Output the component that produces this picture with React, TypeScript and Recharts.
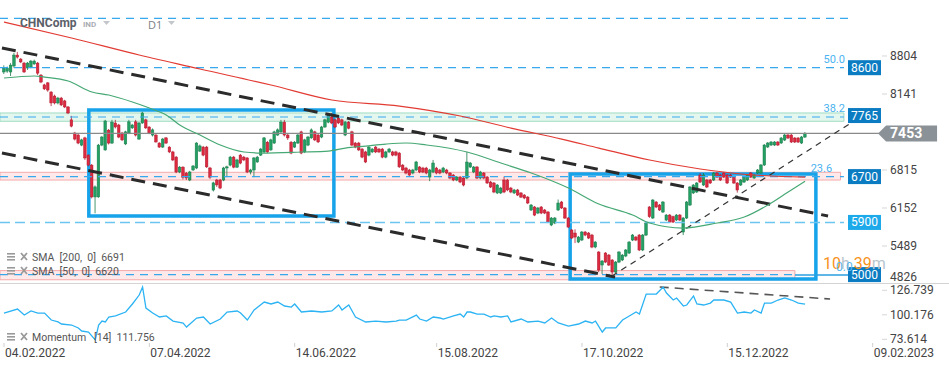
import {
  ComposedChart,
  Bar,
  Line,
  XAxis,
  YAxis,
  ReferenceLine,
  ReferenceArea,
  ReferenceDot,
} from "recharts";

// daily candles, index 0 = first session on the chart
const opens = [
  8525, 8540, 8525, 8630, 8820, 8750, 8680, 8595, 8610, 8665,
  8680, 8470, 8300, 8335, 8175, 8105, 7985, 8070, 8020, 7915,
  7690, 7460, 7425, 7250, 7375, 7075, 6900, 6345, 6345, 7250,
  7165, 7510, 7285, 7635, 7600, 7460, 7270, 7460, 7550, 7655,
  7355, 7635, 7690, 7565, 7425, 7425, 7285, 7215, 7375, 7215,
  7130, 7040, 6780, 6865, 6760, 6640, 6815, 6850, 7145, 7215,
  7215, 6850, 6465, 6640, 6640, 6640, 6850, 6900, 7040, 6865,
  7075, 7040, 7025, 6780, 6815, 6955, 7075, 7130, 7300, 7165,
  7285, 7425, 7480, 7650, 7425, 7300, 7215, 7285, 7480, 7130,
  7250, 7375, 7480, 7425, 7390, 7565, 7650, 7740, 7690, 7720,
  7690, 7425, 7650, 7480, 7285, 7285, 7180, 7130, 7075, 7130,
  7215, 7180, 7180, 7040, 7130, 7130, 7130, 7110, 6900, 6849,
  6815, 6762, 6815, 6867, 6849, 6849, 6692, 6780, 6849, 6815,
  6780, 6815, 6762, 6727, 6640, 6692, 6675, 6675, 6867, 6780,
  6867, 6675, 6762, 6692, 6605, 6588, 6414, 6414, 6640, 6640,
  6500, 6414, 6466, 6414, 6378, 6343, 6117, 6169, 6064, 6169,
  6117, 6082, 5855, 5890, 6117, 6256, 6152, 5977, 5768, 5715,
  5558, 5593, 5733, 5715, 5680, 5471, 5384, 5157, 5366, 5331,
  5244, 5035, 5209, 5244, 5314, 5366, 5593, 5645, 5680, 5419,
  5680, 6169, 5977, 6256, 6204, 6082, 5942, 6029, 6000, 5942,
  6029, 5733, 5977, 6204, 6414, 6431, 6727, 6553, 6640, 6640,
  6640, 6762, 6727, 6762, 6727, 6727, 6692, 6588, 6553, 6605,
  6640, 6762, 6675, 6762, 6762, 6902, 7216, 7251, 7251, 7303,
  7286, 7338, 7425, 7425, 7373, 7373, 7286, 7390,
];
const closes = [
  8594, 8595, 8645, 8820, 8785, 8700, 8525, 8680, 8715, 8715,
  8505, 8350, 8230, 8210, 7985, 7985, 8070, 7950, 7915, 7810,
  7580, 7355, 7285, 7340, 7025, 6900, 6345, 6520, 7250, 7390,
  7670, 7285, 7650, 7565, 7390, 7340, 7480, 7655, 7600, 7425,
  7635, 7810, 7550, 7460, 7515, 7305, 7215, 7355, 7285, 7130,
  6990, 6780, 6865, 6690, 6675, 6780, 6885, 7285, 7235, 7075,
  6870, 6690, 6590, 6555, 6500, 6850, 6870, 7040, 6865, 6990,
  6935, 6990, 6780, 6815, 7025, 7040, 7180, 7375, 7130, 7340,
  7480, 7515, 7650, 7425, 7375, 7110, 7300, 7425, 7110, 7340,
  7390, 7515, 7340, 7305, 7565, 7690, 7775, 7635, 7565, 7635,
  7600, 7650, 7545, 7250, 7215, 7165, 7040, 6955, 7215, 7180,
  7130, 7130, 7040, 7130, 7180, 7075, 7075, 6870, 6815, 6762,
  6727, 6815, 6955, 6780, 6780, 6762, 6815, 6937, 6762, 6762,
  6849, 6762, 6675, 6640, 6692, 6605, 6553, 6954, 6937, 6867,
  6675, 6780, 6675, 6588, 6518, 6431, 6553, 6500, 6431, 6466,
  6431, 6466, 6378, 6343, 6326, 6239, 6204, 6029, 6152, 6064,
  6064, 5907, 5977, 5977, 6239, 6152, 5977, 5820, 5628, 5645,
  5645, 5733, 5680, 5628, 5471, 5558, 5070, 5227, 5209, 5157,
  5035, 5209, 5384, 5331, 5419, 5558, 5680, 5593, 5419, 5680,
  5890, 6000, 6291, 6169, 6117, 6256, 6029, 5907, 5907, 6029,
  5942, 5977, 6256, 6518, 6553, 6588, 6605, 6727, 6518, 6588,
  6762, 6692, 6640, 6692, 6588, 6692, 6588, 6466, 6640, 6692,
  6727, 6692, 6727, 6815, 6902, 7251, 7286, 7303, 7303, 7251,
  7373, 7425, 7373, 7303, 7303, 7303, 7390, 7453,
];
const highs = [
  8640, 8620, 8680, 8860, 8875, 8770, 8700, 8700, 8735, 8740,
  8700, 8490, 8320, 8350, 8190, 8130, 8090, 8090, 8040, 7930,
  7760, 7480, 7445, 7360, 7395, 7090, 6920, 6545, 7270, 7410,
  7690, 7530, 7690, 7690, 7620, 7480, 7500, 7690, 7620, 7690,
  7650, 7830, 7710, 7580, 7540, 7440, 7300, 7375, 7390, 7230,
  7150, 7060, 6885, 6880, 6780, 6800, 6900, 7300, 7260, 7235,
  7235, 6870, 6610, 6660, 6660, 6870, 6890, 7060, 7060, 7010,
  7095, 7060, 7040, 6835, 7040, 7060, 7200, 7390, 7320, 7360,
  7500, 7540, 7690, 7690, 7445, 7320, 7320, 7445, 7500, 7360,
  7410, 7540, 7500, 7445, 7585, 7710, 7810, 7810, 7710, 7760,
  7710, 7670, 7670, 7500, 7305, 7305, 7200, 7150, 7235, 7200,
  7235, 7200, 7200, 7150, 7200, 7150, 7150, 7130, 6920, 6870,
  6835, 6835, 6975, 6885, 6870, 6870, 6835, 6990, 6870, 6835,
  6870, 6835, 6780, 6745, 6710, 6710, 6692, 7130, 6955, 6885,
  6885, 6800, 6780, 6710, 6625, 6605, 6570, 6520, 6700, 6660,
  6520, 6485, 6485, 6430, 6395, 6360, 6222, 6187, 6170, 6187,
  6135, 6100, 5995, 5995, 6300, 6275, 6170, 5995, 5785, 5780,
  5665, 5750, 5750, 5733, 5700, 5575, 5400, 5245, 5384, 5350,
  5262, 5227, 5400, 5350, 5436, 5575, 5698, 5663, 5698, 5698,
  5907, 6187, 6308, 6274, 6222, 6274, 6047, 6047, 6018, 6047,
  6047, 5995, 6274, 6536, 6570, 6605, 6762, 6762, 6658, 6658,
  6780, 6780, 6745, 6780, 6745, 6745, 6710, 6605, 6658, 6710,
  6745, 6780, 6745, 6832, 6920, 7268, 7303, 7320, 7320, 7320,
  7390, 7443, 7443, 7443, 7390, 7390, 7408, 7478,
];
const lows = [
  8490, 8510, 8455, 8600, 8760, 8680, 8510, 8560, 8590, 8650,
  8470, 8330, 8210, 8180, 7930, 7960, 7960, 7930, 7895, 7790,
  7560, 7330, 7265, 7230, 6990, 6880, 6320, 6060, 6330, 7230,
  7150, 7260, 7270, 7540, 7370, 7320, 7250, 7440, 7530, 7400,
  7340, 7620, 7530, 7440, 7400, 7290, 7200, 7200, 7270, 7110,
  6970, 6760, 6760, 6650, 6640, 6620, 6800, 6830, 7130, 7055,
  6850, 6660, 6440, 6520, 6480, 6620, 6690, 6880, 6845, 6850,
  6915, 6970, 6760, 6740, 6690, 6940, 7060, 7110, 7110, 7150,
  7270, 7410, 7460, 7400, 7340, 7090, 7200, 7270, 7090, 7110,
  7230, 7360, 7320, 7285, 7370, 7550, 7630, 7615, 7545, 7615,
  7580, 7405, 7525, 7230, 7195, 7145, 7020, 6935, 7055, 7110,
  7110, 7110, 7020, 7020, 7110, 7055, 7055, 6850, 6795, 6740,
  6705, 6740, 6795, 6760, 6760, 6740, 6620, 6760, 6740, 6740,
  6760, 6740, 6655, 6620, 6620, 6585, 6530, 6655, 6850, 6760,
  6655, 6655, 6655, 6570, 6500, 6410, 6395, 6395, 6410, 6445,
  6410, 6395, 6360, 6325, 6305, 6220, 6100, 6010, 6045, 6045,
  6045, 5890, 5835, 5870, 6100, 6135, 5960, 5800, 5610, 5540,
  5540, 5575, 5660, 5610, 5450, 5450, 5035, 5000, 5190, 5140,
  4982, 5017, 5190, 5225, 5295, 5348, 5575, 5575, 5400, 5400,
  5663, 5980, 5960, 6150, 6100, 6064, 5925, 5890, 5890, 5925,
  5925, 5680, 5960, 6186, 6396, 6414, 6588, 6536, 6500, 6570,
  6622, 6675, 6622, 6675, 6570, 6675, 6570, 6420, 6536, 6588,
  6622, 6675, 6658, 6745, 6745, 6885, 7198, 7233, 7233, 7233,
  7268, 7320, 7355, 7286, 7286, 7286, 7268, 7373,
];

// moving averages, read at sample points
const sma200Idx = [0, 20, 40, 58, 79, 97, 117, 135, 150, 165, 176, 191, 206, 218, 237];
const sma200Vals = [9397, 9118, 8821, 8577, 8298, 8036, 7931, 7757, 7547, 7355, 7198, 6989, 6832, 6745, 6691];
const sma50Idx = [0, 9, 12, 19, 26, 31, 38, 43, 48, 52, 58, 64, 71, 76, 88, 96, 101, 107, 113, 119, 125, 137, 147, 156, 167, 176, 186, 191, 201, 211, 219, 226, 232, 237];
const sma50Vals = [8420, 8455, 8437, 8368, 8176, 8123, 8001, 7896, 7774, 7600, 7425, 7251, 7129, 7111, 7129, 7146, 7198, 7233, 7268, 7286, 7251, 7129, 6937, 6762, 6500, 6221, 6029, 5890, 5802, 5890, 5994, 6204, 6431, 6620];

// momentum (14)
const momIdx = [
  0, 4, 6, 8, 10, 12, 14, 16, 17, 20, 22, 23, 25, 27, 28, 29, 30, 31, 33, 36,
  38, 40, 41, 42, 44, 46, 48, 50, 53, 54, 57, 59, 61, 64, 66, 69, 70, 72, 74, 77,
  79, 81, 83, 85, 86, 88, 91, 94, 97, 99, 100, 102, 104, 107, 110, 113, 116, 117, 119, 122,
  123, 125, 127, 129, 130, 133, 135, 136, 137, 138, 140, 142, 144, 145, 147, 149, 150, 153, 155, 158,
  160, 162, 164, 167, 170, 172, 174, 175, 177, 178, 181, 183, 185, 187, 188, 190, 193, 195, 196, 198,
  199, 201, 202, 204, 205, 207, 209, 210, 213, 215, 217, 219, 221, 222, 224, 225, 227, 229, 231, 233,
  235, 237,
];
const momVals = [
  102.1, 106.4, 99.9, 104.3, 102.1, 102.1, 94.5, 92.4, 90.2, 89.1, 85.9, 82.6, 81.5, 72.9, 89.1, 93.4, 92.4, 97.8, 98.9, 103.2,
  111.9, 121.6, 130.3, 107.5, 102.1, 97.8, 98.9, 93.4, 91.3, 86.9, 96.7, 97.8, 90.2, 95.6, 103.2, 104.3, 102.1, 94.5, 105.4, 114.0,
  111.9, 114.0, 109.7, 108.6, 111.9, 103.2, 104.3, 103.2, 104.3, 110.8, 105.4, 110.8, 97.8, 92.4, 93.4, 92.4, 93.4, 94.5, 94.5, 99.9,
  95.6, 93.4, 97.8, 96.7, 95.6, 98.9, 101.0, 97.8, 103.2, 103.2, 101.0, 101.0, 97.8, 98.9, 97.8, 98.9, 92.4, 95.6, 92.4, 93.4,
  91.3, 96.7, 91.3, 88.0, 90.2, 93.4, 91.3, 93.4, 81.5, 85.9, 85.9, 94.5, 98.9, 103.2, 101.0, 122.7, 122.7, 130.3, 123.8, 116.2,
  118.4, 109.7, 110.8, 120.6, 111.9, 110.8, 112.9, 116.2, 116.2, 114.0, 102.1, 103.2, 102.1, 105.4, 102.1, 112.9, 112.9, 116.2, 118.4, 116.2,
  112.9, 111.8,
];

const dateTicks = [0, 43, 86, 128, 171, 214, 257];
const dateLabels = ["04.02.2022", "07.04.2022", "14.06.2022", "15.08.2022", "17.10.2022", "15.12.2022", "09.02.2023"];
const priceTicks = [4826, 5489, 6152, 6815, 8141, 8804];
const momTicks = [73.614, 100.176, 126.739];

const X_MIN = -1.18;
const X_MAX = 259.17;
const LABEL_X = 249.7;

const rows = opens.map((o, i) => ({
  i,
  o,
  c: closes[i],
  h: highs[i],
  l: lows[i],
  range: [lows[i], highs[i]],
  sma200: null as number | null,
  sma50: null as number | null,
  mom: null as number | null,
}));
sma200Idx.forEach((k, j) => (rows[k].sma200 = sma200Vals[j]));
sma50Idx.forEach((k, j) => (rows[k].sma50 = sma50Vals[j]));
momIdx.forEach((k, j) => (rows[k].mom = momVals[j]));

const GREEN = "#24a064";
const GREEN_D = "#187a4a";
const RED = "#dc2a40";
const RED_D = "#b11a2e";
const FIB = "#37a8ee";

function Candle(props: any) {
  const { x, y, width, height, payload } = props;
  if (!payload) return null;
  const { o, c, h, l } = payload;
  const top = Math.min(y, y + height);
  const hh = Math.abs(height) || 1;
  const px = (v: number) => top + ((h - v) / (h - l || 1)) * hh;
  const cx = x + width / 2;
  const up = c >= o;
  const bTop = px(Math.max(o, c));
  const bBot = px(Math.min(o, c));
  return (
    <g>
      <line x1={cx} x2={cx} y1={top} y2={top + hh} stroke={up ? GREEN_D : RED_D} strokeWidth={0.8} />
      <rect
        x={cx - 1.3}
        y={bTop}
        width={2.6}
        height={Math.max(bBot - bTop, 1)}
        fill={up ? GREEN : RED}
        stroke={up ? GREEN_D : RED_D}
        strokeWidth={0.5}
      />
    </g>
  );
}

const priceBox = (label: string, bg: string) => (p: any) => (
  <g>
    <rect x={p.cx} y={p.cy - 7.5} width={33} height={15} fill={bg} />
    <text x={p.cx + 16.5} y={p.cy + 4} textAnchor="middle" fontSize={12} fill="#fff">
      {label}
    </text>
  </g>
);

const fibText = (label: string) => (p: any) => (
  <text x={p.cx} y={p.cy - 5} textAnchor="end" fontSize={11} fill="#4cb3f0">
    {label}
  </text>
);

const lastPrice = (p: any) => (
  <g>
    <polygon
      points={`${p.cx},${p.cy} ${p.cx + 8},${p.cy - 8} ${p.cx + 59},${p.cy - 8} ${p.cx + 59},${p.cy + 8} ${p.cx + 8},${p.cy + 8}`}
      fill="#8b9297"
    />
    <text x={p.cx + 12} y={p.cy + 5} fontSize={14} fontWeight={700} fill="#fff">
      7453
    </text>
  </g>
);

function PriceTick(props: any) {
  const { x, y, payload } = props;
  const bottom = payload.value === 4826;
  return (
    <g>
      <line x1={x + 2} x2={x + 7} y1={y} y2={y} stroke="#d6d6d6" />
      <text x={x + 10} y={y + (bottom ? -3 : 4)} fontSize={12} fill="#444">
        {payload.value}
      </text>
    </g>
  );
}

function MomTick(props: any) {
  const { x, y, payload } = props;
  return (
    <g>
      <line x1={x + 2} x2={x + 7} y1={y} y2={y} stroke="#d6d6d6" />
      <text x={x + 10} y={y + 4} fontSize={12} fill="#444">
        {payload.value}
      </text>
    </g>
  );
}

function DateTick(props: any) {
  const { x, y, payload, index } = props;
  return (
    <g>
      <line x1={x} x2={x} y1={y - 3} y2={y + 1} stroke="#d0d0d0" />
      <text x={x + 1} y={y + 11} fontSize={12} fill="#444">
        {dateLabels[index] ?? payload.value}
      </text>
    </g>
  );
}

function LegendRow({ top, text }: { top: number; text: string }) {
  return (
    <div style={{ position: "absolute", left: 7, top, display: "flex", alignItems: "center", height: 12 }}>
      <svg width={24} height={10}>
        <rect x={0} y={1} width={8} height={1.6} fill="#9a9a9a" />
        <rect x={0} y={4} width={8} height={1.6} fill="#9a9a9a" />
        <rect x={0} y={7} width={8} height={1.6} fill="#9a9a9a" />
        <path d="M14 1 L20 8 M20 1 L14 8" stroke="#9a9a9a" strokeWidth={1.8} />
      </svg>
      <span style={{ marginLeft: 1, fontSize: 10.5, color: "#555", whiteSpace: "pre" }}>{text}</span>
    </div>
  );
}

function Caret({ left, top }: { left: number; top: number }) {
  return (
    <svg style={{ position: "absolute", left, top }} width={8} height={5}>
      <path d="M0 0 L7 0 L3.5 4 Z" fill="#c3c6ca" />
    </svg>
  );
}

export default function App() {
  return (
    <div
      style={{
        position: "absolute",
        left: 0,
        top: 0,
        width: 949,
        height: 370,
        background: "#fff",
        overflow: "hidden",
        fontFamily: "Roboto, sans-serif",
      }}
    >
      <div style={{ position: "absolute", left: 0, top: 0 }}>
        <ComposedChart width={949} height={284} data={rows} margin={{ top: 0, right: 0, bottom: 0, left: 0 }}>
          <XAxis dataKey="i" type="number" domain={[X_MIN, X_MAX]} hide allowDataOverflow />
          <YAxis
            yAxisId={0}
            orientation="right"
            width={69}
            domain={[4826, 9781]}
            ticks={priceTicks}
            interval={0}
            allowDataOverflow
            axisLine={false}
            tickLine={false}
            tickSize={0}
            tickMargin={0}
            tick={<PriceTick />}
          />

          {/* support / resistance bands */}
          <ReferenceArea x1={X_MIN} x2={248.5} y1={7665} y2={7810} fill="#e4f7ef" fillOpacity={1} stroke="#9fdcc4" strokeWidth={1} />
          <ReferenceArea x1={X_MIN} x2={247.5} y1={6640} y2={6775} fill="#fde9e9" fillOpacity={1} stroke="#f4aaaa" strokeWidth={1} />
          <ReferenceArea x1={X_MIN} x2={234} y1={4900} y2={5060} fill="#fde9e9" fillOpacity={1} stroke="#f4aaaa" strokeWidth={1} />

          <ReferenceLine segment={[{ x: X_MIN, y: 9462 }, { x: 251, y: 9462 }]} stroke={FIB} strokeDasharray="8 6" strokeWidth={1.2} />
          <ReferenceLine segment={[{ x: X_MIN, y: 8600 }, { x: 248.5, y: 8600 }]} stroke={FIB} strokeDasharray="8 6" strokeWidth={1.2} />
          <ReferenceLine segment={[{ x: X_MIN, y: 7740 }, { x: 248.5, y: 7740 }]} stroke={FIB} strokeDasharray="8 6" strokeWidth={1.2} />
          <ReferenceLine segment={[{ x: X_MIN, y: 6700 }, { x: 248.5, y: 6700 }]} stroke={FIB} strokeDasharray="8 6" strokeWidth={1.2} />
          <ReferenceLine segment={[{ x: X_MIN, y: 5900 }, { x: 248.5, y: 5900 }]} stroke="#6cc4f0" strokeDasharray="10 5" strokeWidth={1.5} />
          <ReferenceLine segment={[{ x: X_MIN, y: 4990 }, { x: 234, y: 4990 }]} stroke={FIB} strokeDasharray="8 6" strokeWidth={1.2} />
          <ReferenceLine segment={[{ x: 234, y: 4982 }, { x: LABEL_X, y: 4982 }]} stroke="#2a9fe0" strokeWidth={1.5} />
          <ReferenceLine y={7453} stroke="#8a8a8a" strokeWidth={1.2} />

          {/* trend channel */}
          <ReferenceLine segment={[{ x: -0.6, y: 8944 }, { x: 243.8, y: 6012 }]} stroke="#2b2b2b" strokeWidth={3} strokeDasharray="14 8" />
          <ReferenceLine segment={[{ x: -0.6, y: 7111 }, { x: 180.8, y: 4947 }]} stroke="#2b2b2b" strokeWidth={3} strokeDasharray="14 8" />
          <ReferenceLine segment={[{ x: 179.9, y: 4965 }, { x: 253.3, y: 7739 }]} stroke="#333" strokeWidth={1.2} strokeDasharray="6 5" />

          <Line dataKey="sma200" type="monotone" connectNulls dot={false} activeDot={false} stroke="#e23b33" strokeWidth={1.2} isAnimationActive={false} />
          <Line dataKey="sma50" type="monotone" connectNulls dot={false} activeDot={false} stroke="#46a874" strokeWidth={1.2} isAnimationActive={false} />

          <Bar dataKey="range" barSize={3} shape={<Candle />} isAnimationActive={false} />

          {/* highlight boxes */}
          <ReferenceArea x1={25.1} x2={97.6} y1={6012} y2={7862} fill="none" stroke="#16a3ea" strokeWidth={3.5} />
          <ReferenceArea x1={167.5} x2={240.2} y1={4912} y2={6745} fill="none" stroke="#16a3ea" strokeWidth={3.5} />

          <ReferenceDot x={248.8} y={8600} r={0} ifOverflow="visible" shape={fibText("50.0")} />
          <ReferenceDot x={248.8} y={7740} r={0} ifOverflow="visible" shape={fibText("38.2")} />
          <ReferenceDot x={245} y={6700} r={0} ifOverflow="visible" shape={fibText("23.6")} />

          <ReferenceDot x={LABEL_X} y={8600} r={0} ifOverflow="visible" shape={priceBox("8600", "#0b7bc2")} />
          <ReferenceDot x={LABEL_X} y={7765} r={0} ifOverflow="visible" shape={priceBox("7765", "#0b7bc2")} />
          <ReferenceDot x={LABEL_X} y={6700} r={0} ifOverflow="visible" shape={priceBox("6700", "#0b7bc2")} />
          <ReferenceDot x={LABEL_X} y={5900} r={0} ifOverflow="visible" shape={priceBox("5900", "#1ea9ea")} />
          <ReferenceDot x={LABEL_X} y={4990} r={0} ifOverflow="visible" shape={priceBox("5000", "#0b7bc2")} />
          <ReferenceDot x={258.6} y={7453} r={0} ifOverflow="visible" shape={lastPrice} />
        </ComposedChart>
      </div>

      <div style={{ position: "absolute", left: 0, top: 283, width: 949, height: 1, background: "#d4d4d4" }} />

      <div style={{ position: "absolute", left: 0, top: 284 }}>
        <ComposedChart width={949} height={86} data={rows} margin={{ top: 0, right: 0, bottom: 0, left: 0 }}>
          <XAxis
            dataKey="i"
            type="number"
            domain={[X_MIN, X_MAX]}
            ticks={dateTicks}
            interval={0}
            allowDataOverflow
            height={24}
            axisLine={false}
            tickLine={false}
            tickSize={0}
            tickMargin={0}
            tick={<DateTick />}
          />
          <YAxis
            orientation="right"
            width={69}
            domain={[66.35, 133.57]}
            ticks={momTicks}
            interval={0}
            allowDataOverflow
            axisLine={false}
            tickLine={false}
            tickSize={0}
            tickMargin={0}
            tick={<MomTick />}
          />
          <ReferenceLine segment={[{ x: 194, y: 130.3 }, { x: 244.4, y: 117.3 }]} stroke="#555" strokeWidth={1.6} strokeDasharray="9 6" />
          <Line dataKey="mom" type="linear" connectNulls dot={false} activeDot={false} stroke="#2bb3f3" strokeWidth={1.3} isAnimationActive={false} />
        </ComposedChart>
      </div>

      {/* header */}
      <div style={{ position: "absolute", left: 20, top: 16, fontSize: 12, fontWeight: 700, color: "#5b6068" }}>CHNComp</div>
      <div style={{ position: "absolute", left: 83, top: 20, fontSize: 8, fontWeight: 700, color: "#a9adb3" }}>IND</div>
      <Caret left={103} top={21} />
      <div style={{ position: "absolute", left: 148, top: 17, fontSize: 11, color: "#7a7f86", fontFamily: "'Open Sans', sans-serif" }}>D1</div>
      <Caret left={168} top={21} />

      <LegendRow top={251} text="SMA  [200,  0]  6691" />
      <LegendRow top={265} text="SMA  [50,  0]  6620" />
      <LegendRow top={331} text="Momentum   [14]  111.756" />

      <div style={{ position: "absolute", left: 823, top: 254, fontSize: 16, color: "#f7931e", whiteSpace: "pre" }}>
        10<span style={{ color: "#b9c6cf" }}>h</span> 39<span style={{ color: "#b9c6cf" }}>m</span>
      </div>
      <div style={{ position: "absolute", left: 836, top: 260, fontSize: 12, color: "#5ab8ee" }}>0.0</div>
    </div>
  );
}
